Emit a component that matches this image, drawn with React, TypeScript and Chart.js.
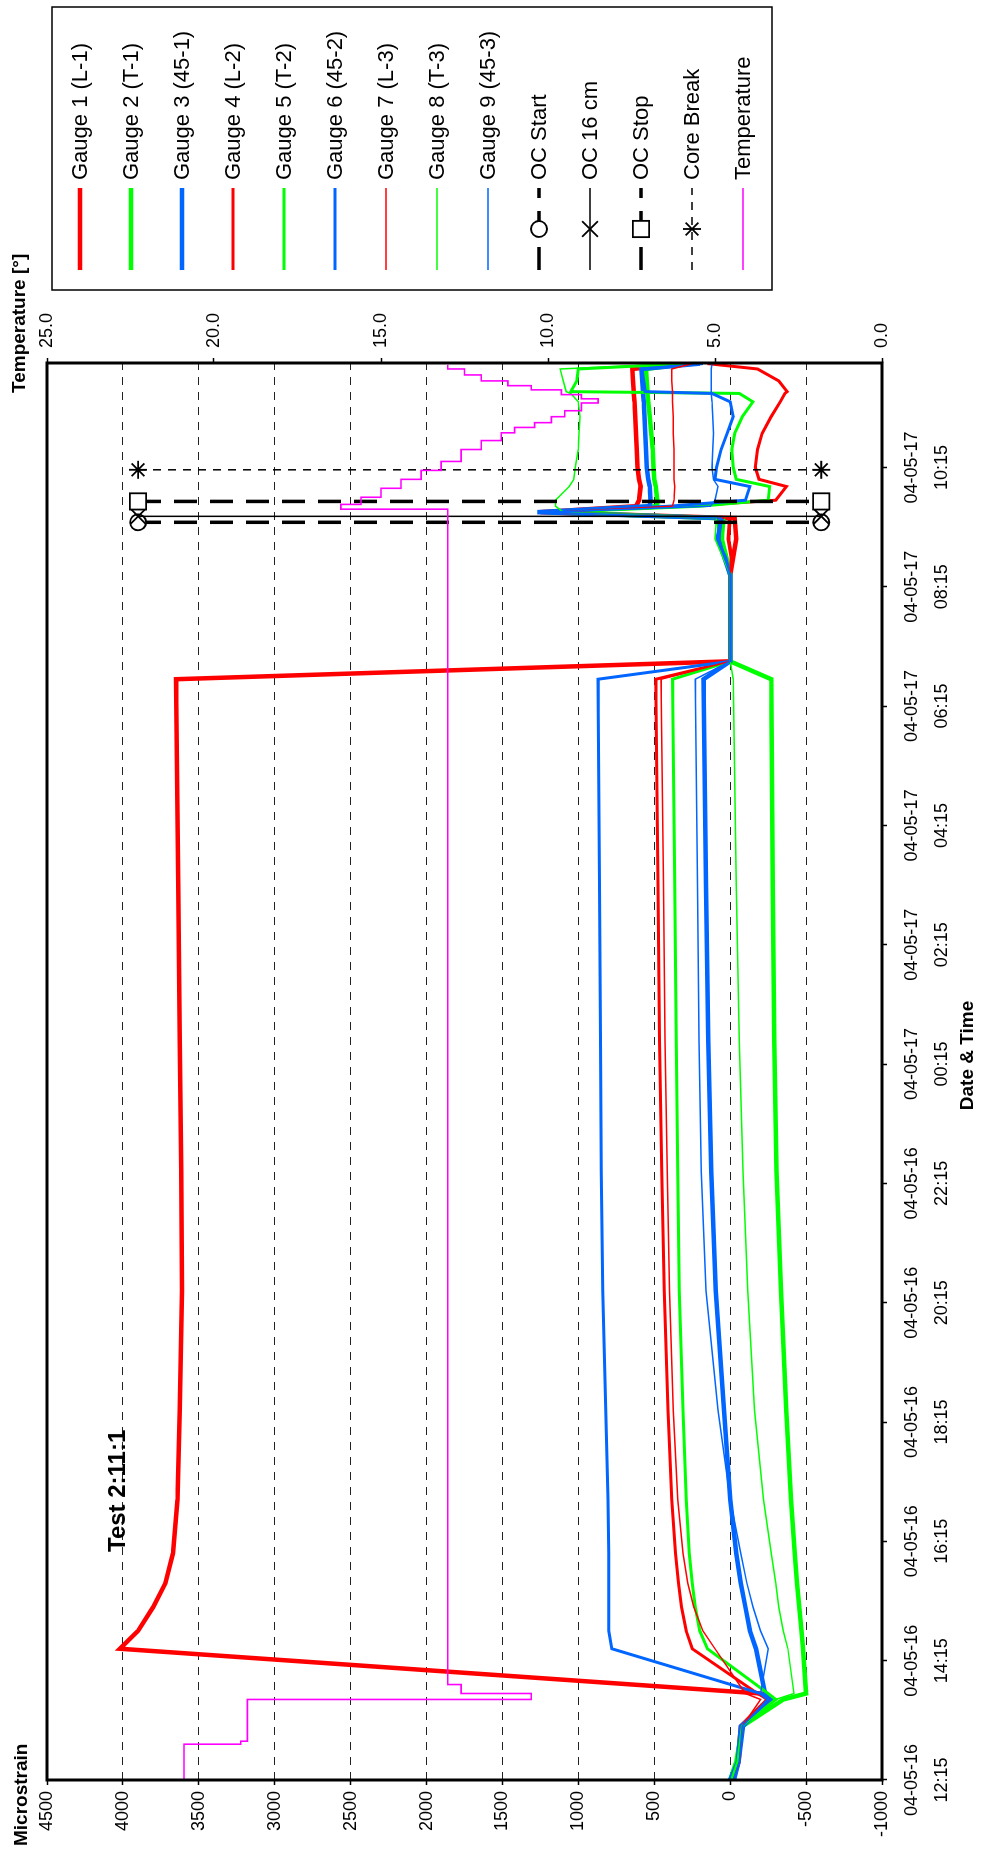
import React, { useEffect, useRef } from "react";
import { Chart, registerables } from "chart.js";

Chart.register(...registerables);

const FONT = "'Liberation Sans', Arial, Helvetica, sans-serif";
// The chart is drawn in landscape and turned a quarter turn counter-clockwise.
const CW = 1852;
const CH = 981;

// ---------- data ----------
// hours after 04-05-16 12:15
const TIME = [0, 0.3, 0.9, 1.35, 1.45, 2.2, 2.5, 2.9, 3.3, 3.8, 4.7, 6.2, 8.2, 10.2, 12.4, 15, 18.45, 18.75, 20.2, 20.5, 20.8, 21.15, 21.25, 21.35, 21.45, 21.68, 21.8, 22.0, 22.3, 22.57, 22.85, 23.1, 23.24, 23.27, 23.45, 23.65, 23.74];

const G1 = [-10, -50, -70, -250, -200, 4020, 3900, 3800, 3720, 3670, 3640, 3625, 3610, 3615, 3625, 3635, 3650, 0, 0, -20, -40, -30, 1250, 620, 600, 590, 600, 610, 615, 620, 625, 630, 635, 635, 640, 645, 300];
const G2 = [0, -40, -80, -350, -500, -480, -470, -455, -440, -425, -400, -370, -335, -305, -290, -280, -270, 0, 0, 30, 60, 80, 1200, 480, 480, 490, 500, 505, 510, 520, 530, 540, 545, 545, 550, 555, 280];
const G3 = [0, -50, -70, -280, -230, -170, -130, -100, -70, -40, 0, 40, 95, 125, 145, 160, 175, 0, 0, 40, 80, 60, 1270, 530, 525, 530, 540, 550, 555, 560, 565, 570, 575, 575, 580, 585, 200];
const G4 = [-20, -60, -80, -250, -180, 250, 290, 320, 340, 360, 385, 410, 435, 450, 465, 475, 490, 0, 0, -10, 10, 0, 1200, 300, -300, -370, -190, -165, -180, -210, -270, -330, -360, -375, -320, -180, 150];
const G5 = [-10, -50, -80, -300, -250, 150, 200, 230, 250, 270, 290, 310, 335, 345, 355, 365, 380, 0, 0, 20, 50, 40, 1150, 200, -250, -260, -40, -20, -10, -30, -80, -150, -60, 1050, 1010, 1000, 300];
const G6 = [-30, -60, -90, -250, -200, 780, 800, 800, 800, 800, 805, 820, 840, 850, 855, 860, 870, 0, 0, 30, 90, 50, 1250, 400, -100, -130, 100, 90, 60, 20, -20, 0, 120, 560, 570, 580, 180];
const G7 = [-20, -60, -80, -200, -100, 100, 180, 240, 280, 310, 345, 375, 400, 415, 430, 440, 455, 0, 0, 0, 20, 10, 1150, 380, 370, 365, 370, 370, 370, 375, 375, 380, 380, 380, 385, 385, 250];
const G8 = [-10, -50, -80, -300, -420, -380, -350, -320, -300, -270, -220, -160, -115, -85, -60, -40, -20, 0, 0, 50, 100, 90, 1100, 1150, 1150, 1060, 1030, 1020, 1000, 995, 990, 1000, 1050, 1080, 1100, 1120, 310];
const G9 = [-20, -60, -80, -250, -200, -250, -200, -150, -110, -70, 0, 80, 160, 190, 205, 215, 230, 0, 0, 40, 70, 60, 1200, 130, 100, 80, 110, 120, 115, 110, 115, 120, 125, 125, 125, 125, 120];

const GAUGE_LABELS = ["Gauge 1 (L-1)", "Gauge 2 (T-1)", "Gauge 3 (45-1)", "Gauge 4 (L-2)", "Gauge 5 (T-2)", "Gauge 6 (45-2)", "Gauge 7 (L-3)", "Gauge 8 (T-3)", "Gauge 9 (45-3)"];
const GAUGE_SERIES = [G1, G2, G3, G4, G5, G6, G7, G8, G9];
const GAUGE_COLORS = ["#FF0000", "#00FF00", "#0066FF", "#FF0000", "#00FF00", "#0066FF", "#FF0000", "#00FF00", "#0066FF"];
const GAUGE_WIDTHS = [4.5, 4.5, 4.5, 3, 3, 3, 1.5, 1.5, 1.5];

const OC_LABELS = ["OC Start", "OC 16 cm", "OC Stop", "Core Break"];
const OC_TIMES = [21.08, 21.18, 21.43, 21.96];
const OC_RANGE = [3900, -600];
const OC_STYLES = ["circle", "crossRot", "rect", "star"];
const OC_WIDTHS = [3.5, 1.5, 3.5, 1.5];
const OC_DASHES = [[23, 13], [], [23, 13], [8, 7]];
const OC_RADII = [8, 11, 11.5, 9];

const TEMP_TIME = [0, 0.6, 0.65, 1.35, 1.45, 1.6, 1.75, 21.3, 21.38, 21.5, 21.65, 21.8, 21.95, 22.1, 22.3, 22.45, 22.58, 22.67, 22.75, 22.85, 22.95, 23.08, 23.15, 23.22, 23.3, 23.37, 23.45, 23.55, 23.65, 23.72];
const TEMP_VALUE = [21.0, 20.9, 19.2, 19.0, 10.5, 12.6, 13.0, 13.0, 16.2, 15.6, 15.0, 14.4, 13.8, 13.2, 12.6, 12.0, 11.4, 11.0, 10.4, 9.9, 9.5, 9.0, 8.5, 9.0, 9.6, 10.5, 11.2, 12.0, 12.5, 13.0];

const TICK_HOURS = [0, 2, 4, 6, 8, 10, 12, 14, 16, 18, 20, 22];
const TICK_DATES = ["04-05-16", "04-05-16", "04-05-16", "04-05-16", "04-05-16", "04-05-16", "04-05-17", "04-05-17", "04-05-17", "04-05-17", "04-05-17", "04-05-17"];
const TICK_TIMES = ["12:15", "14:15", "16:15", "18:15", "20:15", "22:15", "00:15", "02:15", "04:15", "06:15", "08:15", "10:15"];
const STRAIN_TICKS = [-1000, -500, 0, 500, 1000, 1500, 2000, 2500, 3000, 3500, 4000, 4500];
const TEMP_TICKS = [0, 5, 10, 15, 20, 25];

const X_TITLE = "Date & Time";
const Y_TITLE = "Microstrain";
const Y2_TITLE = "Temperature [°]";
const NOTE = "Test 2:11:1";

function drawMarker(ctx: CanvasRenderingContext2D, style: string, x: number, y: number, r: number) {
  ctx.save();
  ctx.setLineDash([]);
  ctx.lineWidth = 1.8;
  ctx.strokeStyle = "#000";
  ctx.fillStyle = "#fff";
  const d = r * Math.SQRT1_2;
  ctx.beginPath();
  if (style === "circle") {
    ctx.arc(x, y, r, 0, Math.PI * 2);
    ctx.fill();
    ctx.stroke();
  } else if (style === "rect") {
    ctx.rect(x - d, y - d, 2 * d, 2 * d);
    ctx.fill();
    ctx.stroke();
  } else if (style === "crossRot") {
    ctx.moveTo(x - d, y - d); ctx.lineTo(x + d, y + d);
    ctx.moveTo(x - d, y + d); ctx.lineTo(x + d, y - d);
    ctx.stroke();
  } else if (style === "star") {
    ctx.moveTo(x - d, y - d); ctx.lineTo(x + d, y + d);
    ctx.moveTo(x - d, y + d); ctx.lineTo(x + d, y - d);
    ctx.moveTo(x, y - r); ctx.lineTo(x, y + r);
    ctx.stroke();
  }
  ctx.restore();
}

const decor = {
  id: "decor",
  afterDraw(chart: any) {
    const ctx: CanvasRenderingContext2D = chart.ctx;
    const ca = chart.chartArea;
    ctx.save();
    // plot frame
    ctx.strokeStyle = "#000";
    ctx.lineWidth = 3;
    ctx.setLineDash([]);
    ctx.strokeRect(ca.left, ca.top, ca.right - ca.left, ca.bottom - ca.top);

    // titles
    ctx.fillStyle = "#000";
    ctx.textBaseline = "middle";
    ctx.font = `bold 19px ${FONT}`;
    ctx.textAlign = "left";
    ctx.fillText(Y_TITLE, 6, 22);
    ctx.fillText(Y2_TITLE, 1459, 20);
    ctx.textAlign = "center";
    ctx.fillText(X_TITLE, (ca.left + ca.right) / 2 + 16, 968);
    ctx.font = `bold 24px ${FONT}`;
    ctx.textAlign = "left";
    ctx.fillText(NOTE, 300, 118);

    // legend
    const box = { x: 1562, y: 52, w: 283, h: 720 };
    const first = 80;
    const step = 51;
    const lx1 = 1582;
    const lx2 = 1664;
    const tx = 1672;
    ctx.lineWidth = 1.5;
    ctx.strokeStyle = "#000";
    ctx.strokeRect(box.x, box.y, box.w, box.h);
    ctx.font = `22px ${FONT}`;
    ctx.textAlign = "left";
    chart.data.datasets.forEach((ds: any, i: number) => {
      const y = first + i * step;
      ctx.save();
      ctx.strokeStyle = ds.borderColor;
      ctx.lineWidth = ds.borderWidth;
      ctx.setLineDash(ds.borderDash || []);
      ctx.beginPath();
      ctx.moveTo(lx1, y);
      ctx.lineTo(lx2, y);
      ctx.stroke();
      ctx.restore();
      if (ds.markerStyle) drawMarker(ctx, ds.markerStyle, (lx1 + lx2) / 2, y, ds.pointRadius);
      ctx.fillStyle = "#000";
      ctx.fillText(ds.label, tx, y + 1);
    });
    ctx.restore();
  },
};

export default function App() {
  const ref = useRef<HTMLCanvasElement | null>(null);

  useEffect(() => {
    if (!ref.current) return;
    const datasets: any[] = [];
    GAUGE_SERIES.forEach((vals, i) => {
      datasets.push({
        label: GAUGE_LABELS[i],
        data: TIME.map((t, k) => ({ x: t, y: vals[k] })),
        borderColor: GAUGE_COLORS[i],
        backgroundColor: GAUGE_COLORS[i],
        borderWidth: GAUGE_WIDTHS[i],
        pointRadius: 0,
        tension: 0,
        yAxisID: "y",
        order: 40 - i,
      });
    });
    OC_LABELS.forEach((lab, i) => {
      datasets.push({
        label: lab,
        data: OC_RANGE.map((v) => ({ x: OC_TIMES[i], y: v })),
        borderColor: "#000",
        backgroundColor: "#fff",
        borderWidth: OC_WIDTHS[i],
        borderDash: OC_DASHES[i],
        pointStyle: OC_STYLES[i],
        markerStyle: OC_STYLES[i],
        pointRadius: OC_RADII[i],
        pointBackgroundColor: "#fff",
        pointBorderColor: "#000",
        pointBorderWidth: 1.8,
        yAxisID: "y",
        order: 20 - i,
      });
    });
    datasets.push({
      label: "Temperature",
      data: TEMP_TIME.map((t, k) => ({ x: t, y: TEMP_VALUE[k] })),
      borderColor: "#FF00FF",
      backgroundColor: "#FF00FF",
      borderWidth: 1.6,
      pointRadius: 0,
      stepped: "after",
      yAxisID: "y2",
      order: 0,
    });

    const tickFont = { family: FONT, size: 18 };
    const chart = new Chart(ref.current, {
      type: "line",
      data: { datasets },
      options: {
        responsive: false,
        animation: false,
        devicePixelRatio: 1,
        events: [],
        layout: { padding: { left: 0, right: 293, top: 47, bottom: 0 } },
        plugins: { legend: { display: false }, tooltip: { enabled: false } },
        scales: {
          x: {
            type: "linear",
            position: "bottom",
            min: 0,
            max: 23.75,
            afterBuildTicks: (s: any) => { s.ticks = TICK_HOURS.map((v) => ({ value: v })); },
            afterFit: (s: any) => { s.height = 99; },
            ticks: {
              autoSkip: false,
              maxRotation: 0,
              minRotation: 0,
              padding: 10,
              color: "#000",
              font: { family: FONT, size: 18, lineHeight: 1.65 },
              callback: (v: any) => {
                const i = TICK_HOURS.indexOf(Number(v));
                return i < 0 ? "" : [TICK_DATES[i], TICK_TIMES[i]];
              },
            },
            grid: { display: true, drawOnChartArea: false, drawTicks: true, tickLength: 5, tickColor: "#000", tickWidth: 1.5, color: "#000" },
            border: { display: false },
          },
          y: {
            type: "linear",
            position: "left",
            min: -1000,
            max: 4500,
            afterBuildTicks: (s: any) => { s.ticks = STRAIN_TICKS.map((v) => ({ value: v })); },
            afterFit: (s: any) => { s.width = 72; },
            ticks: { padding: 6, color: "#000", font: tickFont, callback: (v: any) => String(v) },
            grid: { color: "#222", lineWidth: 1, drawTicks: true, tickLength: 5, tickColor: "#000", tickWidth: 1.5, tickBorderDash: [] },
            border: { display: false, dash: [8, 7] },
          },
          y2: {
            type: "linear",
            position: "right",
            min: 0,
            max: 25,
            afterBuildTicks: (s: any) => { s.ticks = TEMP_TICKS.map((v) => ({ value: v })); },
            afterFit: (s: any) => { s.width = 70; },
            ticks: { padding: 10, color: "#000", font: tickFont, callback: (v: any) => Number(v).toFixed(1) },
            grid: { drawOnChartArea: false, drawTicks: true, tickLength: 5, tickColor: "#000", tickWidth: 1.5, color: "#000" },
            border: { display: false },
          },
        },
      } as any,
      plugins: [decor],
    });
    return () => chart.destroy();
  }, []);

  return (
    <div style={{ position: "absolute", left: 0, top: 0, width: 981, height: 1852, overflow: "hidden", background: "#fff" }}>
      <div
        style={{
          position: "absolute",
          left: 0,
          top: 0,
          width: CW,
          height: CH,
          transformOrigin: "0 0",
          transform: `translateY(${CW}px) rotate(-90deg)`,
        }}
      >
        <canvas ref={ref} width={CW} height={CH} style={{ width: CW, height: CH, display: "block" }} />
      </div>
    </div>
  );
}
